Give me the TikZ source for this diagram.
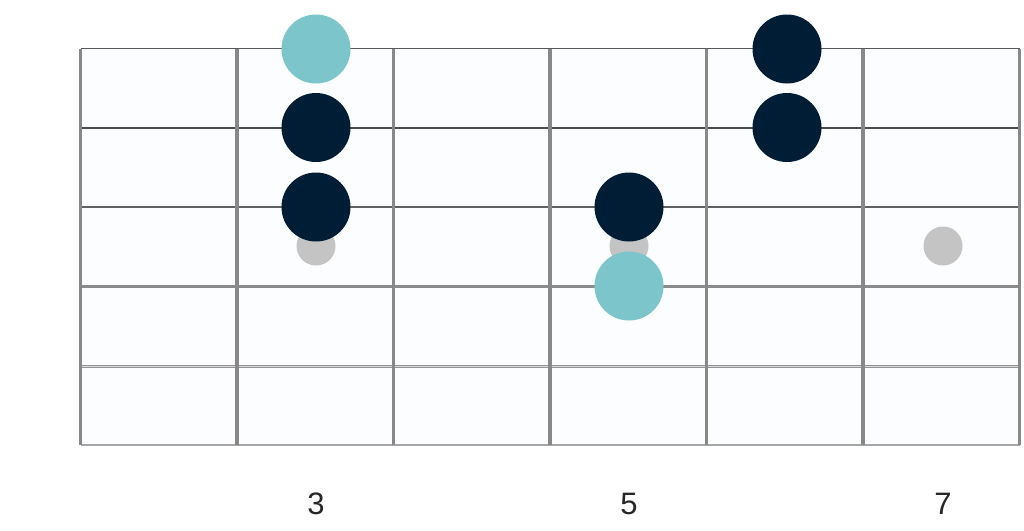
\documentclass[tikz,border=0pt]{standalone}
\usepackage{fontspec}
\setmainfont{Liberation Sans}
\definecolor{navy}{HTML}{001D36}
\definecolor{teal}{HTML}{7CC5CA}
\definecolor{mark}{HTML}{C4C4C4}
\definecolor{fretc}{HTML}{888888}
\definecolor{boardbg}{HTML}{FCFDFE}
\begin{document}
\begin{tikzpicture}[x=1pt,y=-1pt,
  fretline/.style={draw=fretc,line width=3.2pt},
  stringline/.style={line width=#1},
  notedark/.style={circle,fill=navy,minimum size=69pt,inner sep=0pt},
  noteroot/.style={circle,fill=teal,minimum size=69pt,inner sep=0pt},
  inlay/.style={circle,fill=mark,minimum size=39pt,inner sep=0pt},
  fretnum/.style={font=\fontsize{31}{31}\selectfont,text=black!85}]
\useasboundingbox (0,0) rectangle (1024,530);
\fill[boardbg] (80.5,48.5) rectangle (1019.5,445);
% strings
\draw[stringline=1.1pt,draw=black!65] (80.5,48.5) -- (1019.5,48.5);
\draw[stringline=1.1pt,draw=black!70] (80.5,128) -- (1019.5,128);
\draw[stringline=1.4pt,draw=black!62] (80.5,207) -- (1019.5,207);
\draw[stringline=2.4pt,draw=black!45] (80.5,286.5) -- (1019.5,286.5);
\draw[stringline=3pt,draw=black!42] (80.5,366) -- (1019.5,366);
\draw[stringline=3pt,draw=black!35] (80.5,445.5) -- (1019.5,445.5);
\draw[line width=0.8pt,draw=white] (80.5,446.2) -- (1019.5,446.2);
\draw[line width=0.7pt,draw=black!15] (80.5,366.8) -- (1019.5,366.8);
% frets
\foreach \i in {0,...,6} {
  \draw[fretline] ({80.5+156.5*\i},48.5) -- ({80.5+156.5*\i},445);
}
% inlays
\node[inlay] (i3) at (316,246) {};
\node[inlay] (i5) at (629,246) {};
\node[inlay] (i7) at (943,246) {};
% notes
\node[noteroot] (n1) at (316,49) {};
\node[notedark] (n2) at (316,127.5) {};
\node[notedark] (n3) at (316,207) {};
\node[notedark] (n4) at (629,207) {};
\node[noteroot] (n5) at (629,286) {};
\node[notedark] (n6) at (787,49) {};
\node[notedark] (n7) at (787,127.5) {};
% fret numbers
\node[fretnum] (l3) at (316,504) {3};
\node[fretnum] (l5) at (629,504) {5};
\node[fretnum] (l7) at (943,504) {7};
\end{tikzpicture}
\end{document}
